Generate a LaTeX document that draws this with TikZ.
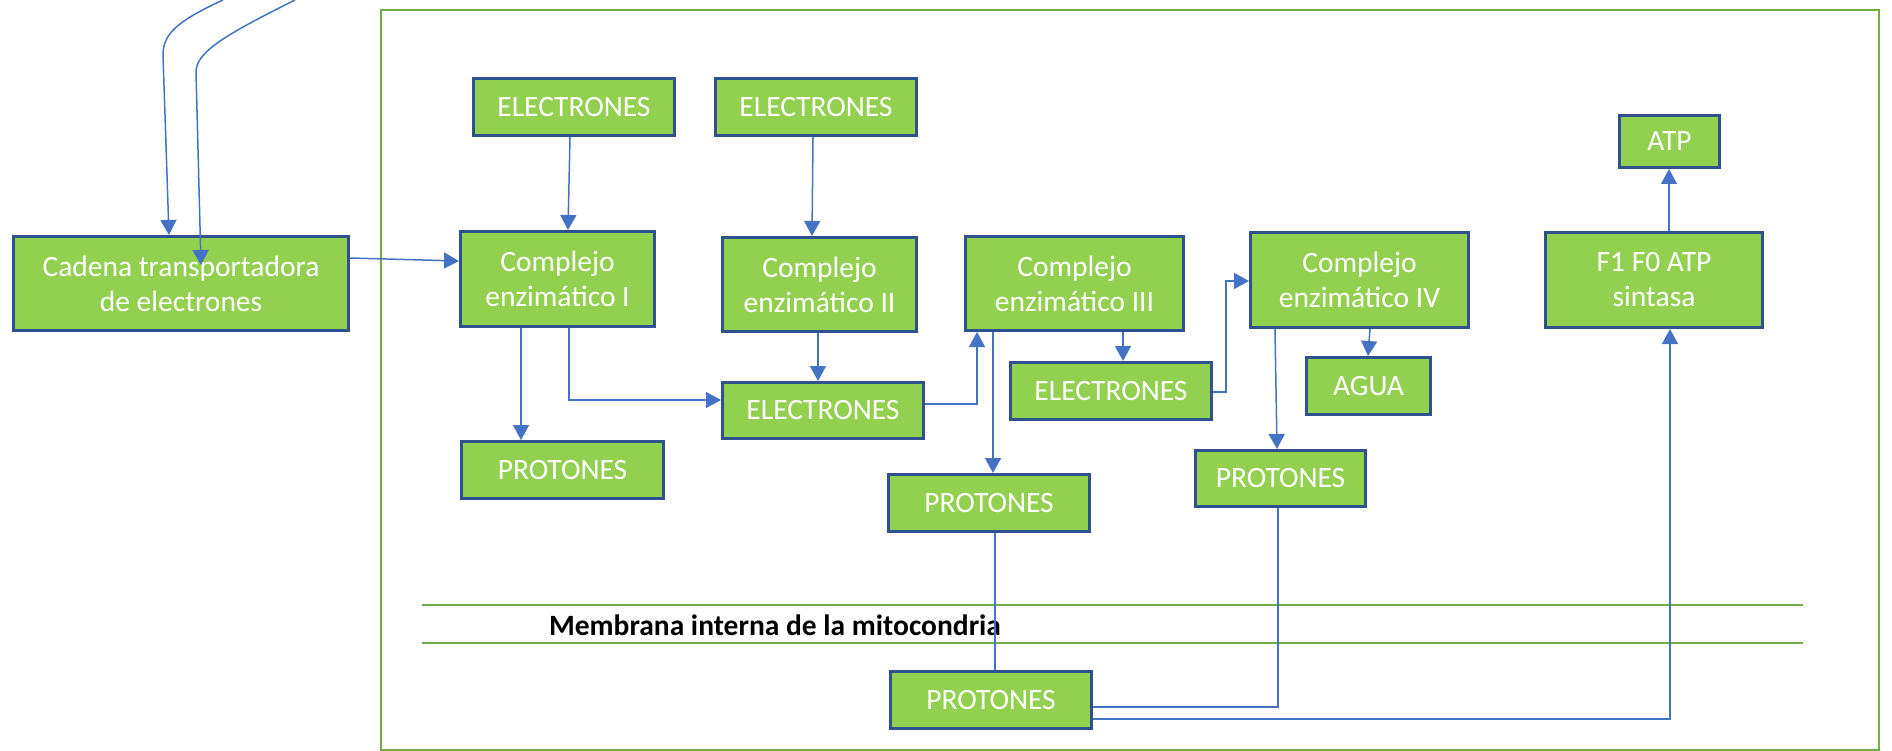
\documentclass[tikz,border=0pt]{standalone}
\usepackage{fontspec}
\setmainfont{Carlito}
\usetikzlibrary{arrows.meta}

\definecolor{verdecaja}{HTML}{92D050}
\definecolor{bordeazul}{HTML}{2F528F}
\definecolor{azulflecha}{HTML}{4472C4}
\definecolor{verdemarco}{HTML}{70AD47}

\begin{document}
\begin{tikzpicture}[
            x = 1pt, y = -1pt,
            every node/.style={font=\fontsize{29.5}{35}\selectfont, text=white, align=center, inner sep=0pt},
            caja/.style={draw=bordeazul, fill=verdecaja, line width=3pt},
            enlace/.style={draw=azulflecha, line width=1.5pt},
            flecha/.style={enlace, -{Triangle[length=15pt,width=16pt]}},
            membrana/.style={draw=verdemarco, line width=2pt},
            ]

        \useasboundingbox (0,0) rectangle (1892,751);
        \draw[verdemarco, line width=2.5pt] (381,10) rectangle (1879,750.5);

        \draw[membrana] (422,605) -- (1803,605);
        \draw[membrana] (422,643) -- (1803,643);
        \node[text=black, font=\fontsize{29.5}{35}\selectfont\bfseries] (textomem) at (775,625) {Membrana interna de la mitocondria};

        \node[caja, minimum width=335pt, minimum height=94pt] (cadena) at (181,283.5) {Cadena transportadora\\de electrones};
        \node[caja, minimum width=201pt, minimum height=57pt] (elec1) at (574,107) {ELECTRONES};
        \node[caja, minimum width=194pt, minimum height=95pt] (cplx1) at (557.5,279) {Complejo\\enzimático I};
        \node[caja, minimum width=201pt, minimum height=57pt] (elec2) at (816,107) {ELECTRONES};
        \node[caja, minimum width=194pt, minimum height=94pt] (cplx2) at (819.5,284.5) {Complejo\\enzimático II};
        \node[caja, minimum width=218pt, minimum height=94pt] (cplx3) at (1074.5,283.5) {Complejo\\enzimático III};
        \node[caja, minimum width=218pt, minimum height=95pt] (cplx4) at (1359.5,280) {Complejo\\enzimático IV};
        \node[caja, minimum width=217pt, minimum height=95pt] (atps) at (1654,280) {F1 F0 ATP\\sintasa};
        \node[caja, minimum width=100pt, minimum height=52pt] (atp) at (1669.5,141.5) {ATP};
        \node[caja, minimum width=201pt, minimum height=56pt] (elec3) at (823,410.5) {ELECTRONES};
        \node[caja, minimum width=202pt, minimum height=57pt] (prot1) at (562.5,470) {PROTONES};
        \node[caja, minimum width=201pt, minimum height=57pt] (elec4) at (1111,391) {ELECTRONES};
        \node[caja, minimum width=124pt, minimum height=57pt] (agua) at (1368.5,386) {AGUA};
        \node[caja, minimum width=170pt, minimum height=56pt] (prot3) at (1280.5,478.5) {PROTONES};
        \node[caja, minimum width=201pt, minimum height=57pt] (prot2) at (989,503) {PROTONES};
        \node[caja, minimum width=201pt, minimum height=57pt] (prot4) at (991,700) {PROTONES};

        \coordinate (origenA) at (223,0);
        \coordinate (origenB) at (295,0);
        \coordinate (destinoB) at (201,265);
        \draw[flecha] (origenA) .. controls (175,22) and (163,35) .. (163,55) -- (cadena.north -| 169,0);
        \draw[flecha] (origenB) .. controls (225,35) and (196,52) .. (196,72) -- (destinoB);

        \draw[flecha] (cadena.east |- 0,258) -- (cplx1.west |- 0,261);
        \draw[flecha] (elec1.south -| 570,0) -- (cplx1.north -| 568,0);
        \draw[flecha] (elec2.south -| 813,0) -- (cplx2.north -| 812,0);
        \draw[flecha] (cplx1.south -| 521,0) -- (prot1.north -| 521,0);
        \draw[flecha] (cplx1.south -| 569,0) |- (elec3.west |- 0,400);
        \draw[flecha] (cplx2.south -| 818,0) -- (elec3.north -| 818,0);
        \draw[flecha] (elec3.east |- 0,404) -| (cplx3.south -| 977,0);
        \draw[flecha] (cplx3.south -| 993,0) -- (prot2.north -| 993,0);
        \draw[flecha] (cplx3.south -| 1123,0) -- (elec4.north -| 1123,0);
        \draw[flecha] (elec4.east |- 0,392) -- ++(13,0) |- (cplx4.west |- 0,281);
        \draw[flecha] (cplx4.south -| 1275,0) -- (prot3.north -| 1277,0);
        \draw[flecha] (cplx4.south -| 1370,0) -- (agua.north -| 1368,0);
        \draw[flecha] (atps.north -| 1669,0) -- (atp.south -| 1669,0);
        \draw[enlace] (prot2.south -| 995,0) -- (prot4.north -| 995,0);
        \draw[enlace] (prot3.south -| 1278,0) |- (prot4.east |- 0,707);
        \draw[flecha] (prot4.east |- 0,719) -| (atps.south -| 1670,0);

    \end{tikzpicture}
\end{document}
